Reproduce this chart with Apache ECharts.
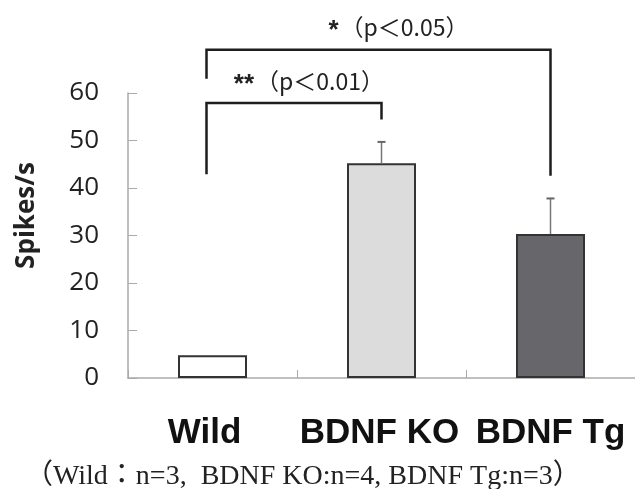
<!DOCTYPE html>
<html><head><meta charset="utf-8">
<script src="https://cdn.jsdelivr.net/npm/echarts@6/dist/echarts.min.js"></script>
<style>html,body{margin:0;padding:0;background:#fff}#c{width:635px;height:489px}</style>
</head><body><div id="c"></div>
<script>
// ---- data ----
var categories = ['Wild', 'BDNF KO', 'BDNF Tg'];
var means = [4.8, 45.2, 30.3];
var errUpper = [0, 4.5, 7.5];
var barColors = ['#ffffff', '#dcdcdc', '#67676b'];
var yMin = 0, yMax = 60, yStep = 10;
// significance brackets (category indices, data-unit heights)
var bracketFrom = [0, 0];
var bracketTo = [1, 2];
var bracketTop = [57.9, 69.1];
var bracketLeftEnd = [42.9, 63.0];
var bracketRightEnd = [54.4, 42.6];
var bracketLabelY = [62.4, 73.8];
var bracketStars = ['**', '*'];
var bracketP = ['（p＜0.01）', '（p＜0.05）'];
var footnote = '（Wild：n=3,\u2002BDNF KO:n=4, BDNF Tg:n=3）';

var chart = echarts.init(document.getElementById('c'), null, {renderer: 'canvas'});
var option = {
  animation: false,
  backgroundColor: '#fff',
  grid: {left: 128, right: -8, top: 93, bottom: 111},
  xAxis: {
    type: 'category', data: categories, boundaryGap: true,
    axisLine: {lineStyle: {color: '#aaaaaa', width: 1.5}},
    axisTick: {show: true, inside: true, length: 8, lineStyle: {color: '#aaaaaa'}},
    axisLabel: {interval: 0, margin: 38, color: '#111', fontSize: 35, fontWeight: 'bold',
      fontFamily: 'Liberation Sans',
      formatter: function (v, i) { return '{c' + i + '|' + v + '}'; },
      rich: {
        c0: {fontSize: 35, fontWeight: 'bold', color: '#111', fontFamily: 'Liberation Sans', padding: [0, 16, 0, 0]},
        c1: {fontSize: 35, fontWeight: 'bold', color: '#111', fontFamily: 'Liberation Sans', padding: [0, 4, 0, 0]},
        c2: {fontSize: 35, fontWeight: 'bold', color: '#111', fontFamily: 'Liberation Sans', padding: [0, 0, 0, 0]}
      }}
  },
  yAxis: {
    type: 'value', min: yMin, max: yMax, interval: yStep,
    name: 'Spikes/s', nameLocation: 'middle', nameGap: 88, nameRotate: 90,
    nameTextStyle: {fontSize: 26, fontWeight: 'bold', color: '#222', fontFamily: 'Open Sans', padding: [0, 0, 0, 40]},
    axisLine: {show: true, lineStyle: {color: '#aaaaaa', width: 1.5}},
    axisTick: {show: true, inside: true, length: 9, lineStyle: {color: '#aaaaaa'}},
    splitLine: {show: false},
    axisLabel: {margin: 29, color: '#222', fontSize: 26, fontFamily: 'Open Sans'}
  },
  series: [
    {
      type: 'bar', barWidth: 69,
      data: means.map(function (v, i) {
        return {value: v, itemStyle: {color: barColors[i]}};
      }),
      itemStyle: {borderColor: '#333', borderWidth: 2}
    },
    {
      type: 'custom', clip: false, z: 3,
      data: means.map(function (v, i) { return [i, v, v + errUpper[i]]; }),
      renderItem: function (params, api) {
        var i = api.value(0);
        if (errUpper[i] <= 0) return null;
        var p0 = api.coord([i, api.value(1)]);
        var p1 = api.coord([i, api.value(2)]);
        var st = {stroke: '#777', lineWidth: 1.5};
        return {type: 'group', children: [
          {type: 'line', shape: {x1: p0[0], y1: p0[1], x2: p1[0], y2: p1[1]}, style: st},
          {type: 'line', shape: {x1: p1[0] - 4, y1: p1[1], x2: p1[0] + 4, y2: p1[1]}, style: {stroke: '#666', lineWidth: 2}}
        ]};
      }
    },
    {
      type: 'custom', clip: false, z: 4,
      data: bracketFrom.map(function (f, k) { return [k]; }),
      renderItem: function (params, api) {
        var k = params.dataIndex;
        var a = api.coord([bracketFrom[k], bracketTop[k]]);
        var b = api.coord([bracketTo[k], bracketTop[k]]);
        var aEnd = api.coord([bracketFrom[k], bracketLeftEnd[k]]);
        var bEnd = api.coord([bracketTo[k], bracketRightEnd[k]]);
        var lab = api.coord([bracketFrom[k], bracketLabelY[k]]);
        var xl = a[0] - 6, xr = b[0];
        var mid = (xl + xr) / 2;
        var st = {stroke: '#1e1e1e', lineWidth: 2.5, fill: null};
        return {type: 'group', children: [
          {type: 'polyline', shape: {points: [[xl, aEnd[1]], [xl, a[1]], [xr, b[1]], [xr, bEnd[1]]]}, style: st},
          {type: 'text', style: {x: mid - 40, y: lab[1] + 3, text: bracketStars[k], textAlign: 'right', textVerticalAlign: 'middle', fontSize: 26, fontWeight: 'bold', fill: '#222', fontFamily: 'Liberation Sans'}},
          {type: 'text', style: {x: mid - 38, y: lab[1], text: bracketP[k], textAlign: 'left', textVerticalAlign: 'middle', fontSize: 23, fill: '#222', fontFamily: 'Noto Sans CJK JP'}}
        ]};
      }
    }
  ],
  graphic: [
    {type: 'text', left: 25, top: 463, style: {text: footnote, fontSize: 28, fill: '#222', fontFamily: 'Liberation Serif, Noto Sans CJK JP'}}
  ]
};
chart.setOption(option);
</script></body></html>
